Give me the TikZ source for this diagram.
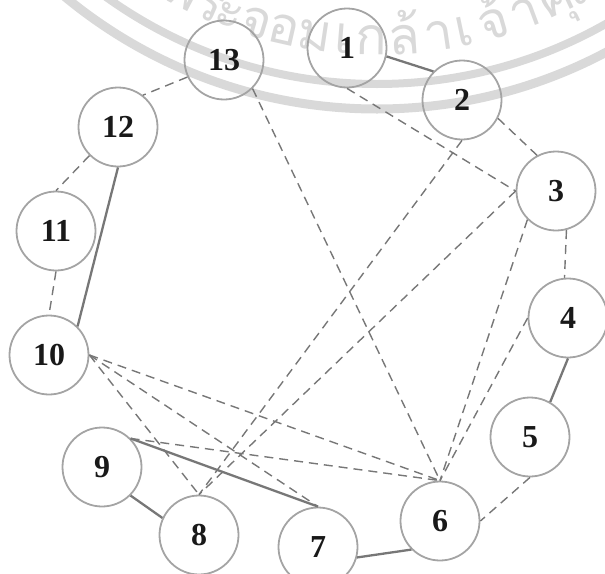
\documentclass[tikz,border=0pt]{standalone}
\usepackage{fontspec}
\setmainfont{Liberation Serif}
\newfontfamily\thaifont[Script=Thai]{Loma}
\usepackage{tikz}
\definecolor{ringgray}{HTML}{A4A4A4}
\definecolor{linkgray}{HTML}{777777}
\definecolor{sealgray}{HTML}{D9D9D9}

\begin{document}
\begin{tikzpicture}[x=1pt, y=-1pt,
    vertex/.style={circle, draw=ringgray, line width=1.8pt, minimum size=79pt, inner sep=0pt, text=black!90, font=\fontsize{32}{32}\selectfont\bfseries},
    strong/.style={draw=linkgray, line width=2.3pt},
    weak/.style={draw=linkgray, line width=1.4pt, dash pattern=on 9pt off 6pt},
    seal/.style={text=sealgray, inner sep=0pt, anchor=base, font=\thaifont\fontsize{52}{52}\selectfont}]
    \useasboundingbox (0,0) rectangle (605,573);
    \begin{scope}
        \clip (0,0) rectangle (605,573);
        \draw[sealgray, line width=8pt] (377,-381) circle[radius=465pt];
        \draw[sealgray, line width=9pt] (377,-381) circle[radius=490pt];
        \foreach \ang/\glyph in {117.5/พ, 113.5/ร, 110.5/ะ, 106.7/จ, 102.8/อ, 98.5/ม, 94.6/เ, 90.7/ก, 86.2/ล้, 81.6/า, 78/เ, 73.9/จ้, 69.5/า, 64.8/คุ, 60/ณ}
            \node[seal, rotate=90-\ang] (g\ang) at ([shift={(\ang:436)}]377,-381) {\glyph};
    \end{scope}

    \node[vertex] (n1) at (347,48) {1};
    \node[vertex] (n2) at (462,100) {2};
    \node[vertex] (n3) at (556,191) {3};
    \node[vertex] (n4) at (568,318) {4};
    \node[vertex] (n5) at (530,437) {5};
    \node[vertex] (n6) at (440,521) {6};
    \node[vertex] (n7) at (318,547) {7};
    \node[vertex] (n8) at (199,535) {8};
    \node[vertex] (n9) at (102,467) {9};
    \node[vertex] (n10) at (49,355) {10};
    \node[vertex] (n11) at (56,231) {11};
    \node[vertex] (n12) at (118,127) {12};
    \node[vertex] (n13) at (224,60) {13};

    \draw[strong] (n1.-12) -- (n2.north west);
    \draw[strong] (n12.south) -- (n10.north east);
    \draw[strong] (n4.south) -- (n5.60);
    \draw[strong] (n7.-15) -- (n6.south west);
    \draw[strong] (n9.south east) -- (n8.155);
    \draw[strong] (n9.north east) -- (n7.north);

    \draw[weak] (n13.205) -- (n12.52);
    \draw[weak] (n12.south west) -- (n11.north);
    \draw[weak] (n11.south) -- (n10.north);
    \draw[weak] (n1.south) -- (n3.west);
    \draw[weak] (n2.-27) -- (n3.118);
    \draw[weak] (n3.-75) -- (n4.95);
    \draw[weak] (n5.south) -- (n6.east);
    \draw[weak] (n13.south east) -- (n6.north);
    \draw[weak] (n2.south) -- (n8.north);
    \draw[weak] (n3.west) -- (n8.north);
    \draw[weak] (n3.south west) -- (n6.north);
    \draw[weak] (n4.west) -- (n6.north);
    \draw[weak] (n10.east) -- (n6.north);
    \draw[weak] (n10.east) -- (n7.north);
    \draw[weak] (n10.east) -- (n8.north);
    \draw[weak] (n9.north east) -- (n6.north);
\end{tikzpicture}
\end{document}
